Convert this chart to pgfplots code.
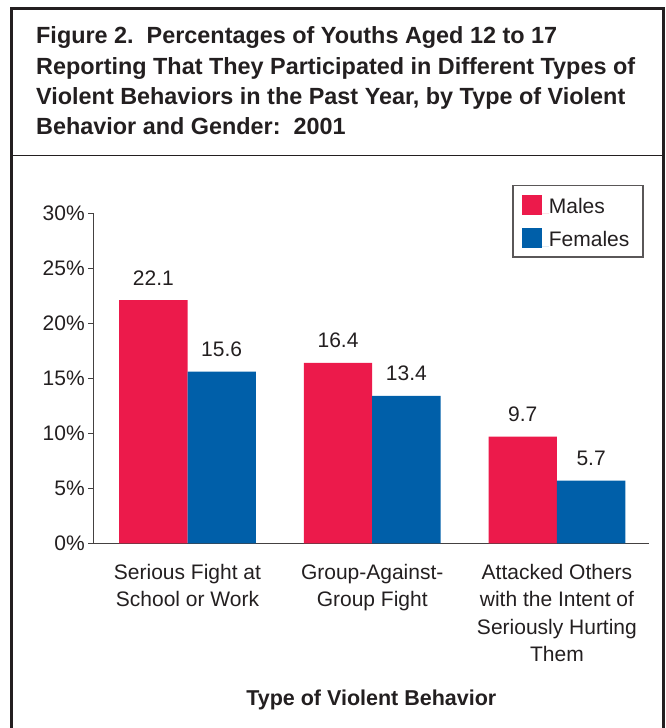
\documentclass[border=0pt]{standalone}
\usepackage{fontspec}
\setmainfont{Liberation Sans}
\usepackage{pgfplots}
\pgfplotsset{compat=1.18}
\definecolor{maleRed}{HTML}{EC1A4B}
\definecolor{femaleBlue}{HTML}{005FA9}
\definecolor{txt}{HTML}{231F20}

\begin{document}
\begin{tikzpicture}
\begin{axis}[
  at={(93.3pt,184.7pt)}, anchor=south west,
  scale only axis, width=556pt, height=330pt,
  xmin=-0.51, xmax=2.5, ymin=0, ymax=30,
  axis x line*=bottom, axis y line*=left,
  axis line style={line width=1.2pt, draw=txt!85},
  ybar=0pt, bar width=0.37,
  ytick={0,5,...,30},
  yticklabel={\pgfmathprintnumber{\tick}\%},
  ytick style={line width=1.2pt, draw=txt!85},
  tick align=outside, major tick length=5pt,
  xtick={0,1,2}, xtick style={draw=none},
  xticklabels={{Serious Fight at\\School or Work},
               {Group-Against-\\Group Fight},
               {Attacked Others\\with the Intent of\\Seriously Hurting\\Them}},
  xticklabel style={align=center, font=\fontsize{21}{27.6}\selectfont, text=txt, yshift=-12pt},
  yticklabel style={font=\fontsize{21}{25}\selectfont, text=txt},
  /pgf/number format/assume math mode=true,
  xlabel={Type of Violent Behavior},
  xlabel style={font=\fontsize{21.5}{25}\selectfont\bfseries, text=txt,
                at={(axis description cs:0.5,0)}, anchor=base,
                yshift=-161.7pt, inner sep=0pt},
  nodes near coords={\pgfmathprintnumber[fixed,fixed zerofill,precision=1]{\pgfplotspointmeta}},
  every node near coord/.append style={font=\fontsize{21}{25}\selectfont,
                text=txt, anchor=base, inner sep=0pt, yshift=15pt},
  legend style={at={(axis description cs:0.7536,1.0858)}, anchor=north west,
                draw=txt!75, line width=1.2pt, fill=white,
                inner xsep=9pt, inner ysep=9pt,
                font=\fontsize{21}{25}\selectfont, text=txt,
                row sep=12.5pt,
                nodes={inner sep=0pt, anchor=base west, text width=85pt, align=left}},
  legend image code/.code={\fill[#1] (0pt,-1pt) rectangle (20pt,19pt);
                           \path (0pt,0pt) -- (27pt,0pt);},
]
\addplot[fill=maleRed, draw=none] coordinates {(0,22.1) (1,16.4) (2,9.7)};
\addplot[fill=femaleBlue, draw=none] coordinates {(0,15.6) (1,13.4) (2,5.7)};
\legend{Males, Females}
\end{axis}
% frame and title box, in page coordinates (pt, origin bottom left)
\draw[line width=3pt, txt] (11.5pt,-3pt) -- (11.5pt,719pt) -- (663.5pt,719pt) -- (663.5pt,-3pt);
\draw[line width=1.5pt, txt] (11.5pt,572.3pt) -- (663.5pt,572.3pt);
\node[anchor=base west, align=left, inner sep=0pt, text=txt,
      font=\fontsize{23.4}{30.3}\selectfont\bfseries] at (36pt,593.1pt)
  {Figure 2.\ \ Percentages of Youths Aged 12 to 17\\
   Reporting That They Participated in Different Types of\\
   Violent Behaviors in the Past Year, by Type of Violent\\
   Behavior and Gender:\ \ 2001};
\pgfresetboundingbox
\useasboundingbox (0pt,0pt) rectangle (665pt,728pt);
\end{tikzpicture}
\end{document}
